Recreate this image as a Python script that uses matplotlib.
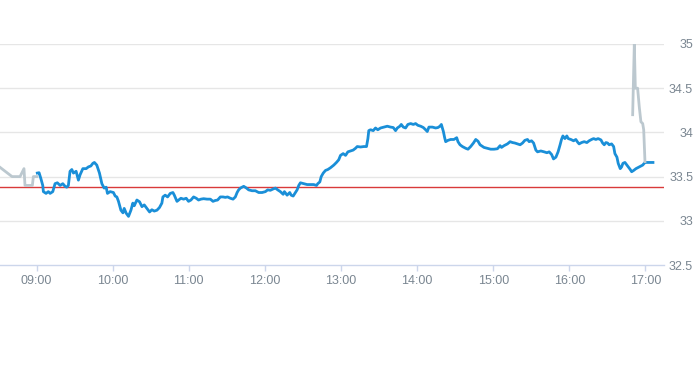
import matplotlib
matplotlib.use("Agg")
import matplotlib.pyplot as plt

# ---- data (minutes after 09:00, price) ----
pre_min = [-28.8, -19.3, -13.0, -9.9, -9.1, -3.3, -2.5, 0.2]
pre_val = [33.605, 33.50, 33.50, 33.59, 33.40, 33.40, 33.50, 33.50]

main_min = [0.6, 2.0, 3.3, 4.9, 5.4, 7.5, 9.3, 10.7, 12.8, 14.6, 16.4, 18.6, 20.7, 22.5, 23.8, 25.1,
            26.4, 27.8, 29.1, 31.2, 33.0, 34.3, 36.5, 39.1, 40.9, 42.8, 44.4, 45.6, 47.5, 49.6, 51.5,
            53.3, 54.9, 55.9, 58.0, 60.6, 62.0, 63.3, 64.6, 66.5, 68.1, 69.1, 70.7, 72.5, 74.4, 75.9,
            77.0, 79.1, 81.2, 83.1, 84.9, 87.0, 89.1, 90.9, 92.8, 94.9, 96.9, 98.8, 99.6, 101.4, 103.3,
            105.4, 107.5, 108.6, 110.7, 112.0, 113.8, 115.9, 118.0, 119.8, 121.7, 123.8, 125.9, 127.7,
            129.6, 131.7, 134.4, 137.0, 139.1, 140.9, 142.7, 144.9, 147.0, 148.8, 150.6, 152.8, 154.9,
            156.7, 158.1, 159.3, 160.7, 163.3, 165.5, 167.2, 169.9, 172.5, 175.1, 177.8, 180.4, 182.2,
            184.3, 186.5, 188.3, 190.1, 192.2, 194.4, 195.4, 197.5, 199.6, 200.7, 202.3, 204.1, 205.4,
            206.7, 208.0, 210.6, 213.3, 215.9, 218.5, 220.7, 221.7, 223.3, 224.4, 226.0, 227.8, 229.6,
            231.7, 234.3, 236.4, 238.2, 239.6, 241.7, 243.6, 245.4, 247.5, 249.6, 251.4, 252.8, 255.4,
            258.0, 260.1, 261.2, 261.9, 263.3, 265.4, 267.2, 269.0, 271.2, 273.8, 276.5, 279.1, 281.2,
            283.0, 284.4, 286.4, 287.5, 289.1, 290.9, 292.7, 294.9, 297.0, 298.8, 300.6, 302.8, 304.9,
            306.7, 308.0, 309.3, 312.0, 314.6, 316.4, 318.0, 319.1, 320.7, 321.7, 322.5, 324.3, 326.4,
            329.0, 331.2, 332.2, 333.8, 335.7, 338.3, 340.1, 342.2, 344.4, 346.2, 348.0, 349.6, 350.6,
            352.7, 355.4, 358.0, 360.6, 363.3, 365.4, 366.5, 368.5, 371.2, 373.3, 375.2, 377.0, 379.1,
            381.2, 383.1, 384.9, 387.0, 388.3, 390.2, 391.8, 393.6, 394.9, 397.5, 400.1, 402.3, 404.1,
            406.0, 407.5, 409.4, 411.1, 412.7, 413.8, 414.9, 416.5, 418.0, 419.1, 421.2, 423.3, 425.1,
            426.5, 427.7, 429.6, 431.7, 433.8, 435.6, 437.5, 439.1, 440.9, 442.7, 444.9, 446.2, 447.5,
            448.8, 450.1, 451.4, 453.3, 454.9, 455.9, 457.5, 458.5, 460.1, 461.2, 462.2, 463.8, 465.4,
            466.4, 468.0, 469.1, 470.7, 472.5, 475.1, 477.8, 479.6, 485.9]
main_val = [33.54, 33.544, 33.484, 33.40, 33.33, 33.31, 33.33, 33.31, 33.33, 33.42, 33.43, 33.40, 33.42,
            33.39, 33.38, 33.40, 33.56, 33.58, 33.54, 33.56, 33.46, 33.52, 33.59, 33.59, 33.61, 33.62,
            33.65, 33.66, 33.63, 33.54, 33.42, 33.37, 33.38, 33.31, 33.33, 33.32, 33.28, 33.27, 33.22,
            33.12, 33.09, 33.14, 33.085, 33.05, 33.12, 33.20, 33.17, 33.235, 33.215, 33.16, 33.18, 33.14,
            33.10, 33.125, 33.11, 33.12, 33.15, 33.20, 33.27, 33.29, 33.27, 33.31, 33.32, 33.29, 33.22,
            33.235, 33.255, 33.245, 33.255, 33.22, 33.235, 33.27, 33.255, 33.235, 33.245, 33.25, 33.245,
            33.245, 33.22, 33.23, 33.235, 33.27, 33.27, 33.265, 33.27, 33.255, 33.245, 33.27, 33.32,
            33.35, 33.37, 33.39, 33.37, 33.35, 33.34, 33.34, 33.32, 33.32, 33.33, 33.35, 33.345, 33.36,
            33.37, 33.35, 33.33, 33.30, 33.33, 33.29, 33.32, 33.29, 33.28, 33.32, 33.35, 33.40, 33.43,
            33.42, 33.41, 33.41, 33.41, 33.40, 33.42, 33.44, 33.50, 33.54, 33.57, 33.58, 33.60, 33.63,
            33.66, 33.69, 33.74, 33.76, 33.74, 33.78, 33.79, 33.80, 33.82, 33.84, 33.835, 33.84, 33.84,
            33.93, 34.02, 34.03, 34.02, 34.05, 34.03, 34.05, 34.06, 34.07, 34.06, 34.055, 34.02, 34.05,
            34.07, 34.09, 34.06, 34.05, 34.09, 34.10, 34.09, 34.10, 34.08, 34.07, 34.055, 34.03, 34.01,
            34.06, 34.06, 34.05, 34.055, 34.07, 34.09, 34.01, 33.94, 33.895, 33.91, 33.92, 33.92, 33.94,
            33.895, 33.86, 33.84, 33.82, 33.81, 33.84, 33.88, 33.92, 33.90, 33.86, 33.85, 33.83, 33.82,
            33.81, 33.81, 33.815, 33.85, 33.83, 33.85, 33.87, 33.895, 33.885, 33.88, 33.87, 33.86, 33.88,
            33.91, 33.92, 33.895, 33.905, 33.88, 33.80, 33.78, 33.79, 33.78, 33.77, 33.78, 33.75, 33.70,
            33.72, 33.78, 33.86, 33.92, 33.96, 33.93, 33.96, 33.93, 33.92, 33.905, 33.92, 33.89, 33.87,
            33.885, 33.895, 33.885, 33.905, 33.92, 33.93, 33.92, 33.93, 33.915, 33.88, 33.86, 33.885,
            33.88, 33.86, 33.87, 33.84, 33.76, 33.72, 33.65, 33.59, 33.61, 33.65, 33.66, 33.63, 33.61,
            33.58, 33.555, 33.57, 33.59, 33.61, 33.63, 33.66, 33.66]

post_min = [469.9, 471.2, 472.0, 473.8, 475.1, 476.4, 477.8, 478.6, 479.6]
post_val = [34.20, 35.0, 34.50, 34.50, 34.29, 34.12, 34.10, 34.03, 33.67]

ref_price = 33.38

tick_min = [0, 60, 120, 180, 240, 300, 360, 420, 480]
tick_labels = ["09:00", "10:00", "11:00", "12:00", "13:00", "14:00", "15:00", "16:00", "17:00"]
y_ticks = [32.5, 33, 33.5, 34, 34.5, 35]
y_labels = ["32.5", "33", "33.5", "34", "34.5", "35"]

# ---- figure ----
W, H = 693, 365
fig = plt.figure(figsize=(W / 100, H / 100), dpi=100)
ax = fig.add_axes([0, 100 / H, 664 / W, 221 / H])

label_color = "#7a8691"
font = ["Liberation Sans Narrow", "Liberation Sans", "DejaVu Sans"]

for v in y_ticks[1:]:
    ax.axhline(v, color="#e6e6e6", lw=1.0, zorder=0)

ax.axhline(ref_price, color="#d93a3a", lw=1.0, zorder=2)
ax.plot(pre_min, pre_val, color="#bcc8cf", lw=2.0, zorder=3, solid_joinstyle="round")
ax.plot(main_min, main_val, color="#1a8fd8", lw=2.0, zorder=4, solid_joinstyle="round")
ax.plot(post_min, post_val, color="#bcc8cf", lw=2.0, zorder=5, solid_joinstyle="round")

ax.set_xlim(-28.8, 494.6)
ax.set_ylim(32.5, 35)

for s in ["top", "left", "right"]:
    ax.spines[s].set_visible(False)
ax.spines["bottom"].set_color("#ccd6eb")
ax.spines["bottom"].set_linewidth(1.0)

ax.set_xticks(tick_min)
ax.set_xticklabels(tick_labels, family=font, fontsize=9, color=label_color)
ax.tick_params(axis="x", length=4, width=1, color="#ccd6eb", pad=3)

ax.yaxis.tick_right()
ax.set_yticks(y_ticks)
ax.set_yticklabels(y_labels, family=font, fontsize=9, color=label_color)
ax.tick_params(axis="y", length=0, pad=21)
for t in ax.get_yticklabels():
    t.set_horizontalalignment("right")

fig.savefig("out.png", dpi=100)
